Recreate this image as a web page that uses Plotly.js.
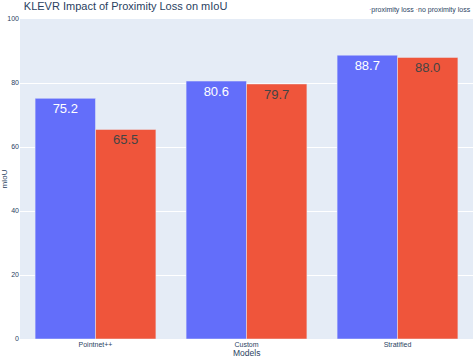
<!DOCTYPE html>
<html>
<head>
<meta charset="utf-8">
<script src="https://cdn.plot.ly/plotly-3.0.1.min.js"></script>
<style>body{margin:0;} #plot{width:476px;height:357px;}</style>
</head>
<body>
<div id="plot"></div>
<script>
let models = ["Pointnet++", "Custom", "Stratified"];
let with_prox = [75.2, 80.6, 88.7];
let without_prox = [65.5, 79.7, 88.0];
let series_names = ["proximity loss", "no proximity loss"];
let series_colors = ["#636efa", "#EF553B"];

let data = [
  {
    x: models,
    y: with_prox,
    type: "bar",
    name: series_names[0],
    text: with_prox.map((v) => v.toFixed(1)),
    textposition: "inside",
    insidetextanchor: "end",
    textfont: { size: 13 },
    marker: { color: series_colors[0], line: { color: "#E5ECF6", width: 0.5 } },
  },
  {
    x: models,
    y: without_prox,
    type: "bar",
    name: series_names[1],
    text: without_prox.map((v) => v.toFixed(1)),
    textposition: "inside",
    insidetextanchor: "end",
    textfont: { size: 13 },
    marker: { color: series_colors[1], line: { color: "#E5ECF6", width: 0.5 } },
  },
];

// small legend with dot swatches, like the exported original
let legend_text = series_names
  .map((n, i) => "<span style='color:" + series_colors[i] + "'>·</span>" + n)
  .join(" ");

var layout = {
  width: 476,
  height: 357,
  margin: { l: 20, r: 3, t: 19, b: 18 },
  paper_bgcolor: "white",
  plot_bgcolor: "#E5ECF6",
  font: { family: "Liberation Sans, Arial, sans-serif", color: "#2a3f5f", size: 7 },
  title: {
    text: "KLEVR Impact of Proximity Loss on mIoU",
    font: { size: 11 },
    x: 0.05,
    xanchor: "left",
    y: 0.995,
    yanchor: "top",
  },
  barmode: "group",
  bargap: 0.2,
  bargroupgap: 0,
  showlegend: false,
  annotations: [
    {
      text: legend_text,
      xref: "paper",
      yref: "paper",
      x: 1,
      y: 1,
      xanchor: "right",
      yanchor: "bottom",
      yshift: 3,
      showarrow: false,
      font: { size: 7 },
    },
    {
      text: "Models",
      xref: "paper",
      yref: "paper",
      x: 0.5,
      y: 0,
      xanchor: "center",
      yanchor: "top",
      yshift: -7,
      showarrow: false,
      font: { size: 8.5 },
    },
  ],
  xaxis: {
    tickfont: { size: 7 },
    ticklen: 0,
  },
  yaxis: {
    title: { text: "mIoU", font: { size: 8 }, standoff: 4 },
    range: [0, 100],
    dtick: 20,
    tickfont: { size: 7 },
    gridcolor: "white",
    zerolinecolor: "white",
  },
};

Plotly.newPlot("plot", data, layout, { displayModeBar: false });
</script>
</body>
</html>
